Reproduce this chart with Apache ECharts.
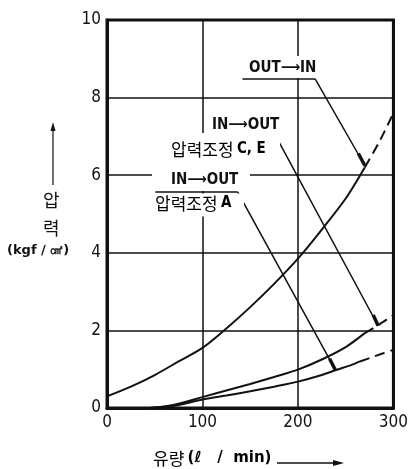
<!DOCTYPE html>
<html><head><meta charset="utf-8">
<script src="https://cdn.jsdelivr.net/npm/echarts@6/dist/echarts.min.js"></script>
<style>html,body{margin:0;padding:0;background:#fff}#c{width:411px;height:469px}</style>
</head><body><div id="c"></div>
<script>
// ---- data (flow l/min, pressure kgf/cm2) ----
const xTicks = [0, 100, 200, 300];
const yTicks = [0, 2, 4, 6, 8, 10];

const outInFlow   = [0, 25, 50, 75, 100, 125, 150, 175, 200, 225, 250, 270];
const outInPress  = [0.3, 0.55, 0.85, 1.2, 1.55, 2.05, 2.6, 3.2, 3.85, 4.6, 5.4, 6.2];
const outInExtFlow  = [270, 285, 300];
const outInExtPress = [6.2, 6.85, 7.6];

const ceFlow   = [45, 60, 75, 100, 125, 150, 175, 200, 225, 250, 270];
const cePress  = [0, 0.04, 0.11, 0.28, 0.45, 0.62, 0.8, 0.99, 1.25, 1.57, 1.93];
const ceExtFlow  = [270, 285, 300];
const ceExtPress = [1.93, 2.15, 2.4];

const aFlow   = [45, 60, 75, 100, 125, 150, 175, 200, 225, 240, 255, 265];
const aPress  = [0, 0.03, 0.08, 0.22, 0.32, 0.43, 0.55, 0.68, 0.85, 0.98, 1.1, 1.2];
const aExtFlow  = [265, 280, 300];
const aExtPress = [1.2, 1.33, 1.5];

// leader lines in data coordinates: underline start, underline end, point on curve, start of thick tip
const leaders = [
  {u0:[141.9, 8.48], u1:[218, 8.48], end:[270, 6.25], tip:[263.3, 6.56]},
  {u0:[104.4, 6.98], u1:[177.4, 6.98], end:[284, 2.12], tip:[278.8, 2.40]},
  {u0:[50.7, 5.57],  u1:[136.8, 5.57], end:[239.2, 0.98], tip:[233.2, 1.27]}
];

const zip = (xs, ys) => xs.map((x, i) => [x, ys[i]]);

const chart = echarts.init(document.getElementById('c'));
const numFont = "'DejaVu Sans Condensed','DejaVu Sans',sans-serif";
const krFont = "'Noto Sans CJK KR',sans-serif";
const black = '#111';

const markLines = [];
leaders.forEach(l => {
  markLines.push([{coord:l.u0, lineStyle:{width:1.5}}, {coord:l.u1}]);
  markLines.push([{coord:l.u1, lineStyle:{width:1.5}}, {coord:l.end}]);
  markLines.push([{coord:l.tip, lineStyle:{width:3.5}}, {coord:l.end}]);
});

const solid = {type:'line', showSymbol:false, symbol:'none', smooth:0.3, lineStyle:{color:black, width:2}, z:5};
const dashed = {type:'line', showSymbol:false, symbol:'none', smooth:0.3, lineStyle:{color:black, width:2, type:[10,6]}, z:5};

const richLbl = {
  kr:{fontSize:17, fontFamily:krFont, color:black},
  en:{fontSize:15, fontWeight:'bold', fontFamily:"'DejaVu Sans Condensed',sans-serif", color:black}
};
const arrowText = (a, b, left, top) => ({type:'text', z:60, left, top,
  style:{text:a + '⟶' + b, font:"bold 15px 'DejaVu Sans Condensed','DejaVu Sans',sans-serif", fill:black}});

const option = {
  animation:false,
  backgroundColor:'#fff',
  grid:{left:107, right:8, top:20, bottom:61, show:true, borderColor:black, borderWidth:3, backgroundColor:'transparent'},
  xAxis:{type:'value', min:0, max:300, interval:100,
    axisLine:{show:true, lineStyle:{color:black, width:3}},
    axisTick:{show:false},
    axisLabel:{color:black, fontSize:17, fontFamily:numFont, margin:6,
      formatter:v => xTicks.includes(v) ? String(v) : ''},
    splitLine:{show:true, lineStyle:{color:black, width:1.5}}},
  yAxis:{type:'value', min:0, max:10, interval:2,
    axisLine:{show:true, lineStyle:{color:black, width:3}},
    axisTick:{show:false},
    axisLabel:{color:black, fontSize:17, fontFamily:numFont, margin:6,
      formatter:v => yTicks.includes(v) ? String(v) : ''},
    splitLine:{show:true, lineStyle:{color:black, width:1.5}}},
  series:[
    Object.assign({}, solid, {name:'OUT→IN', data:zip(outInFlow, outInPress)}),
    Object.assign({}, dashed, {name:'OUT→IN ext', data:zip(outInExtFlow, outInExtPress)}),
    Object.assign({}, solid, {name:'IN→OUT C,E', data:zip(ceFlow, cePress)}),
    Object.assign({}, dashed, {name:'IN→OUT C,E ext', data:zip(ceExtFlow, ceExtPress)}),
    Object.assign({}, solid, {name:'IN→OUT A', data:zip(aFlow, aPress),
      markLine:{silent:true, symbol:['none','none'], label:{show:false},
        lineStyle:{color:black, type:'solid', width:1.5}, data:markLines}}),
    Object.assign({}, dashed, {name:'IN→OUT A ext', data:zip(aExtFlow, aExtPress)})
  ],
  graphic:[
    // white boxes masking grid lines behind labels
    {type:'rect', z:50, shape:{x:245, y:56, width:82, height:22}, style:{fill:'#fff'}},
    {type:'rect', z:50, shape:{x:168, y:133, width:112, height:34}, style:{fill:'#fff'}},
    {type:'rect', z:50, shape:{x:152, y:167, width:98, height:24}, style:{fill:'#fff'}},
    {type:'rect', z:50, shape:{x:152, y:193.5, width:92, height:23}, style:{fill:'#fff'}},
    // annotation texts
    arrowText('OUT', 'IN', 249, 61),
    arrowText('IN', 'OUT', 212, 118),
    {type:'text', z:60, left:171, top:141, style:{text:'{kr|압력조정} {en|C, E}', rich:richLbl}},
    arrowText('IN', 'OUT', 171, 173),
    {type:'text', z:60, left:155, top:195, style:{text:'{kr|압력조정} {en|A}', rich:richLbl}},
    // y axis title
    {type:'line', z:60, shape:{x1:53, y1:185, x2:53, y2:128}, style:{stroke:black, lineWidth:1.2}},
    {type:'polygon', z:60, shape:{points:[[53,122],[50.5,131],[55.5,131]]}, style:{fill:black}},
    {type:'text', z:60, left:43, top:191, style:{text:'압', font:"18px "+krFont, fill:black}},
    {type:'text', z:60, left:43, top:219, style:{text:'력', font:"18px "+krFont, fill:black}},
    {type:'text', z:60, left:7, top:244, style:{text:'(kgf / ㎠)', font:"bold 13px 'DejaVu Sans',sans-serif", fill:black}},
    // x axis title
    {type:'text', z:60, left:153, top:450, style:{text:'{kr|유량} {en|(ℓ   /  min)}', rich:{
      kr:{fontSize:17, fontFamily:krFont, color:black},
      en:{fontSize:15, fontWeight:'bold', fontFamily:"'DejaVu Sans',sans-serif", color:black}}}},
    {type:'line', z:60, shape:{x1:277, y1:463, x2:336, y2:463}, style:{stroke:black, lineWidth:1.5}},
    {type:'polygon', z:60, shape:{points:[[344,463],[333,460],[333,466]]}, style:{fill:black}}
  ]
};
chart.setOption(option);
</script>
</body></html>
